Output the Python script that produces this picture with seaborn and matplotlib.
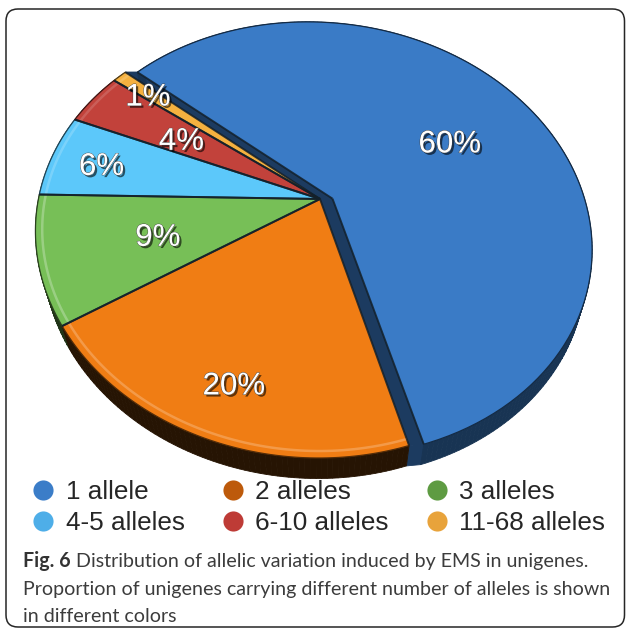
import numpy as np
import matplotlib
matplotlib.use("Agg")
import matplotlib.pyplot as plt
import matplotlib.patheffects as pe
from matplotlib.patches import Polygon, FancyBboxPatch
from matplotlib.lines import Line2D
from matplotlib.colors import to_rgb
import seaborn as sns

# ---- data -------------------------------------------------------------
categories = ["1 allele", "2 alleles", "3 alleles",
              "4-5 alleles", "6-10 alleles", "11-68 alleles"]
shares = [60, 20, 9, 6, 4, 1]
pct_labels = [f"{s}%" for s in shares]

caption_bold = "Fig. 6"
caption_lines = [
    "Distribution of allelic variation induced by EMS in unigenes.",
    "Proportion of unigenes carrying different number of alleles is shown",
    "in different colors",
]

# ---- styling ----------------------------------------------------------
sns.set_theme(style="white")
plt.rcParams["font.family"] = ["Liberation Sans", "DejaVu Sans"]

top_colors = sns.color_palette(["#3A7BC6", "#F07D14", "#77BF57",
                                "#5CC8FA", "#C2423B", "#F5B13F"])
legend_colors = sns.color_palette(["#3B7DC8", "#BD5A0B", "#5E9B42",
                                   "#4EAEE8", "#BE3B36", "#E8A33B"])
side_shade = [0.42, 0.16, 0.27, 0.32, 0.32, 0.32]
highlight = [0.0, 0.3, 0.35, 0.25, 0.2, 0.2]
label_radius = [0.58, 0.80, 0.60, 0.82, 0.60, 0.85]
pull_out = [0.047, 0, 0, 0, 0, 0]      # largest wedge pulled sideways

W, H = 626, 631
fig = plt.figure(figsize=(W / 100, H / 100), dpi=100)
ax = fig.add_axes([0, 0, 1, 1])
ax.set_xlim(0, W)
ax.set_ylim(H, 0)
ax.axis("off")

# ---- perspective view of the pie disc -----------------------------------
CX, CY = 320, 199
SX, SHEAR, ROLL, SY, DROP = 266.0, -23.6, -8.2, 210.0, 190.0
PU, PV, PZ = 0.06, 0.185, 0.204
THICK = 0.125
START = 137.0


def project(u, v, z=0.0):
    u = np.asarray(u, float)
    v = np.asarray(v, float)
    z = np.asarray(z, float)
    w = 1 + PU * u + PV * v - PZ * z
    x = (SX * u + SHEAR * v) / w
    y = (ROLL * u - SY * v - DROP * z) / w
    return CX + x, CY + y, w


def shade(c, k):
    return tuple(np.clip(np.array(to_rgb(c)) * k, 0, 1))


def lighten(c, k):
    c = np.array(to_rgb(c))
    return tuple(c + (1 - c) * k)


edges = START - np.concatenate([[0], np.cumsum(shares)]) * 360.0 / sum(shares)

walls = []
faces = []
for i in range(len(shares)):
    a0, a1 = edges[i], edges[i + 1]
    du = pull_out[i]
    n = max(3, int(abs(a0 - a1)) + 2)
    ang = np.radians(np.linspace(a0, a1, n))
    cu, sv = du + np.cos(ang), np.sin(ang)
    side = shade(top_colors[i], side_shade[i])

    # outer rim wall, in small strips
    xt, yt, wt = project(cu, sv, 0)
    xb, yb, wb = project(cu, sv, -THICK)
    for j in range(n - 1):
        quad = [(xt[j], yt[j]), (xt[j + 1], yt[j + 1]),
                (xb[j + 1], yb[j + 1]), (xb[j], yb[j])]
        walls.append(((wt[j] + wt[j + 1]) / 2, quad, side))

    # cut faces of a pulled-out wedge, plus the opening it leaves behind
    if du > 0:
        rad_side = shade(top_colors[i], side_shade[i] * 1.15)
        rs = np.linspace(0, 1, 14)
        for a in (a0, a1):
            ca, sa = np.cos(np.radians(a)), np.sin(np.radians(a))
            gx, gy, _ = project([0, ca, du + ca, du], [0, sa, sa, 0], 0)
            walls.append((10.0, list(zip(gx, gy)), rad_side))
            ex, ey, _ = project([ca, du + ca, du + ca, ca], [sa, sa, sa, sa],
                                [0, 0, -THICK, -THICK])
            walls.append((10.0, list(zip(ex, ey)), rad_side))
            ru, rv = du + rs * ca, rs * sa
            rxt, ryt, rwt = project(ru, rv, 0)
            rxb, ryb, _ = project(ru, rv, -THICK)
            for j in range(len(rs) - 1):
                quad = [(rxt[j], ryt[j]), (rxt[j + 1], ryt[j + 1]),
                        (rxb[j + 1], ryb[j + 1]), (rxb[j], ryb[j])]
                walls.append(((rwt[j] + rwt[j + 1]) / 2 + 0.01, quad, rad_side))

    ax_, ay_, _ = project(du, 0.0, 0)
    faces.append((i, [(ax_, ay_)] + list(zip(xt, yt)), (ax_, ay_), xt, yt, ang, du))

for _, quad, col in sorted(walls, key=lambda t: -t[0]):
    ax.add_patch(Polygon(quad, closed=True, fc=col, ec=col, lw=0.6, zorder=2))

for i, poly, apex, xt, yt, ang, du in faces:
    col = top_colors[i]
    ax.add_patch(Polygon(poly, closed=True, fc=col, ec="none", zorder=3))
    if highlight[i] > 0:
        hx, hy, _ = project(du + 0.978 * np.cos(ang), 0.978 * np.sin(ang), 0)
        ax.plot(hx, hy, color=lighten(col, highlight[i]), lw=1.8, alpha=0.75,
                zorder=3.5, solid_capstyle="butt")
    ax.plot(xt, yt, color=shade(col, 0.35), lw=0.9, zorder=3.6)
    for k in (0, -1):
        ax.plot([apex[0], xt[k]], [apex[1], yt[k]], color="#13202a",
                lw=1.4, alpha=0.85, zorder=3.7, solid_capstyle="butt")

# ---- percentage labels --------------------------------------------------
for i, txt in enumerate(pct_labels):
    mid = np.radians((edges[i] + edges[i + 1]) / 2)
    r = label_radius[i]
    lx, ly, _ = project(pull_out[i] + r * np.cos(mid), r * np.sin(mid), 0)
    ax.text(lx, ly + 4, txt, ha="center", va="center", color="white",
            fontsize=22.5, family="Liberation Sans", zorder=6,
            path_effects=[pe.withSimplePatchShadow(offset=(1.6, -1.6),
                                                   shadow_rgbFace="black",
                                                   alpha=0.6),
                          pe.Stroke(linewidth=0.6, foreground="#444444"),
                          pe.Normal()])

# ---- legend (row-major, three columns) ------------------------------------
handles = [Line2D([0], [0], marker="o", linestyle="none", markersize=14.5,
                  markerfacecolor=c, markeredgewidth=0) for c in legend_colors]
order = [0, 3, 1, 4, 2, 5]
fig.legend([handles[k] for k in order], [categories[k] for k in order],
           ncol=3, loc="upper left", bbox_to_anchor=(33 / W, 1 - 480 / H),
           frameon=False, handlelength=0.8, handletextpad=0.45,
           columnspacing=1.45, labelspacing=0.28, borderpad=0, borderaxespad=0,
           prop={"family": "Liberation Sans", "size": 18.8})

# ---- caption --------------------------------------------------------------
renderer = fig.canvas.get_renderer()
cap_font = "Lato"
probe = ax.text(0, 0, caption_lines[1], fontsize=13, family=cap_font)
size = 13 * 585 / probe.get_window_extent(renderer).width
probe.remove()

line_y = [561, 589, 616]
t = ax.text(23, line_y[0], caption_bold, fontsize=size, weight="bold",
            color="#333333", va="center", family=cap_font)
bb = t.get_window_extent(renderer)
ax.text(bb.x1 + 0.26 * size * 100 / 72, line_y[0], caption_lines[0],
        fontsize=size, color="#3c3c3c", va="center", family=cap_font)
for y, line in zip(line_y[1:], caption_lines[1:]):
    ax.text(23, y, line, fontsize=size, color="#3c3c3c", va="center",
            family=cap_font)

# ---- rounded frame ----------------------------------------------------------
ax.add_patch(FancyBboxPatch((6, 9), 618.5, 618,
                            boxstyle="round,pad=0,rounding_size=12",
                            fc="none", ec="#262626", lw=1.1, zorder=1))

fig.savefig("out.png", dpi=100)
